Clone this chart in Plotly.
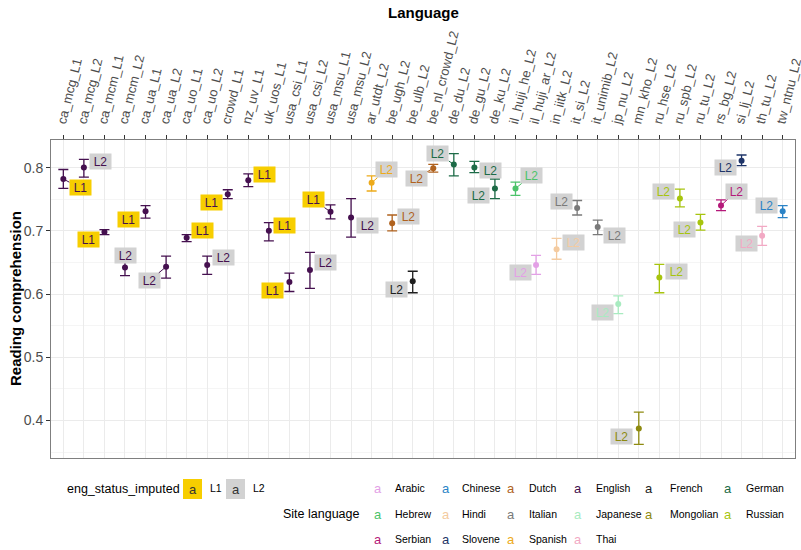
import plotly.graph_objects as go

# ---------------- data ----------------
sites = ["ca_mcg_L1", "ca_mcg_L2", "ca_mcm_L1", "ca_mcm_L2", "ca_ua_L1", "ca_ua_L2",
         "ca_uo_L1", "ca_uo_L2", "crowd_L1", "nz_uv_L1", "uk_uos_L1", "usa_csi_L1",
         "usa_csi_L2", "usa_msu_L1", "usa_msu_L2", "ar_utdt_L2", "be_ugh_L2", "be_ulb_L2",
         "be_nl_crowd_L2", "de_du_L2", "de_gu_L2", "de_ku_L2", "il_huji_he_L2",
         "il_huji_ar_L2", "in_iitk_L2", "it_si_L2", "it_unimib_L2", "jp_nu_L2",
         "mn_kho_L2", "ru_hse_L2", "ru_spb_L2", "ru_tu_L2", "rs_bg_L2", "si_lj_L2",
         "th_tu_L2", "tw_ntnu_L2"]

site_language = ["English"] * 15 + ["Spanish", "Dutch", "French", "Dutch",
                 "German", "German", "German", "Hebrew", "Arabic", "Hindi",
                 "Italian", "Italian", "Japanese", "Mongolian", "Russian", "Russian",
                 "Russian", "Serbian", "Slovene", "Thai", "Chinese"]

eng_status = ["L1", "L2", "L1", "L2", "L1", "L2", "L1", "L2", "L1", "L1", "L1", "L1",
              "L2", "L1", "L2"] + ["L2"] * 21

comprehension = [0.782, 0.800, 0.698, 0.642, 0.731, 0.643, 0.689, 0.646, 0.758, 0.780,
                 0.700, 0.619, 0.638, 0.730, 0.721, 0.776, 0.712, 0.620, 0.799, 0.805,
                 0.800, 0.767, 0.767, 0.646, 0.671, 0.736, 0.706, 0.584, 0.387, 0.626,
                 0.751, 0.713, 0.740, 0.811, 0.692, 0.731]

ci_low = [0.767, 0.785, 0.694, 0.629, 0.720, 0.625, 0.683, 0.631, 0.751, 0.770,
          0.684, 0.604, 0.609, 0.719, 0.690, 0.763, 0.700, 0.602, 0.793, 0.787,
          0.792, 0.751, 0.756, 0.631, 0.655, 0.725, 0.694, 0.569, 0.362, 0.602,
          0.738, 0.701, 0.732, 0.803, 0.677, 0.721]

ci_high = [0.797, 0.813, 0.702, 0.650, 0.740, 0.660, 0.694, 0.660, 0.765, 0.790,
           0.713, 0.633, 0.666, 0.741, 0.751, 0.787, 0.725, 0.636, 0.805, 0.822,
           0.810, 0.782, 0.777, 0.661, 0.688, 0.748, 0.717, 0.597, 0.413, 0.647,
           0.766, 0.726, 0.749, 0.820, 0.707, 0.740]

legend_languages = ["Arabic", "Chinese", "Dutch", "English", "French", "German",
                    "Hebrew", "Hindi", "Italian", "Japanese", "Mongolian", "Russian",
                    "Serbian", "Slovene", "Spanish", "Thai"]

# ---------------- styles ----------------
lang_colors = {
    "Arabic": "#E3A0E6", "Chinese": "#2B83C6", "Dutch": "#B0621E", "English": "#45104F",
    "French": "#1E1E1E", "German": "#1D6B47", "Hebrew": "#4CC36A", "Hindi": "#F4CBA0",
    "Italian": "#7A7A7A", "Japanese": "#A8EBC0", "Mongolian": "#8E8A10", "Russian": "#A7C40E",
    "Serbian": "#B5197A", "Slovene": "#1E3468", "Spanish": "#EDAA1A", "Thai": "#F2A9C4",
}
status_fill = {"L1": "#F7CE00", "L2": "#D2D2D2"}

# label offsets in screen pixels (repel-style placement)
label_offsets = [(17, 9), (17, -6), (-16, 7), (1, -12), (-17, 8), (-17, 14), (16, -7),
                 (16, -7), (-16, 8), (16, -6), (16, -5), (-17, 8), (16, -7), (-17, -12),
                 (16, 8), (15, -13), (16, -7), (-16, 8), (-17, 10), (-16, -11), (16, 3),
                 (-16, 7), (16, -13), (-16, 8), (17, -7), (-16, -7), (17, 8), (-16, 8),
                 (-17, 8), (17, -6), (-16, -7), (-16, 7), (15, -14), (-16, 7), (-16, 8),
                 (-16, -6)]

FONT = "Liberation Sans, Arial, sans-serif"
L, R, T, B = 51, 6, 140, 92
W, H = 801, 550
PW, PH = W - L - R, H - T - B


def px(xp):
    return (xp - L) / PW


def py(yp):
    return (H - B - yp) / PH


fig = go.Figure()

idx = list(range(len(sites)))
for lang in legend_languages:
    sel = [i for i in idx if site_language[i] == lang]
    if not sel:
        continue
    c = lang_colors[lang]
    fig.add_trace(go.Scatter(
        x=[sites[i] for i in sel],
        y=[comprehension[i] for i in sel],
        mode="markers",
        marker=dict(color=c, size=6),
        error_y=dict(type="data", symmetric=False,
                     array=[ci_high[i] - comprehension[i] for i in sel],
                     arrayminus=[comprehension[i] - ci_low[i] for i in sel],
                     color=c, thickness=1.3, width=5),
        showlegend=False, hoverinfo="skip",
    ))

annotations = []
for i in idx:
    dx, dy = label_offsets[i]
    c = lang_colors[site_language[i]]
    far = (dx * dx + dy * dy) ** 0.5 > 19
    annotations.append(dict(
        x=sites[i], y=comprehension[i], xref="x", yref="y",
        text=eng_status[i], showarrow=True, ax=dx, ay=dy,
        arrowhead=0, arrowwidth=1, standoff=2,
        arrowcolor=c if far else "rgba(0,0,0,0)",
        bgcolor=status_fill[eng_status[i]], borderpad=0, width=21, height=15,
        font=dict(family=FONT, size=12, color=c),
    ))

# axis titles
annotations.append(dict(x=0.5, y=py(12), xref="paper", yref="paper", text="<b>Language</b>",
                        showarrow=False, font=dict(family=FONT, size=15, color="black"),
                        xanchor="center", yanchor="middle"))
annotations.append(dict(x=px(15), y=0.5, xref="paper", yref="paper",
                        text="<b>Reading comprehension</b>", textangle=-90,
                        showarrow=False, font=dict(family=FONT, size=15, color="black"),
                        xanchor="center", yanchor="middle"))

shapes = []
# eng_status legend
annotations.append(dict(x=px(65), y=py(489), xref="paper", yref="paper",
                        text="eng_status_imputed", showarrow=False, xanchor="left",
                        yanchor="middle", font=dict(family=FONT, size=12.5, color="black")))
for k, (st, x0) in enumerate([("L1", 183), ("L2", 226)]):
    shapes.append(dict(type="rect", xref="paper", yref="paper",
                       x0=px(x0), x1=px(x0 + 19), y0=py(499), y1=py(479),
                       fillcolor=status_fill[st], line=dict(width=0)))
    annotations.append(dict(x=px(x0 + 9.5), y=py(489), xref="paper", yref="paper",
                            text="a", showarrow=False, xanchor="center", yanchor="middle",
                            font=dict(family=FONT, size=13, color="#333333")))
    annotations.append(dict(x=px(x0 + 25), y=py(488), xref="paper", yref="paper",
                            text=st, showarrow=False, xanchor="left", yanchor="middle",
                            font=dict(family=FONT, size=10.5, color="black")))

# site language legend
annotations.append(dict(x=px(362), y=py(514), xref="paper", yref="paper",
                        text="Site language", showarrow=False, xanchor="right",
                        yanchor="middle", font=dict(family=FONT, size=12.5, color="black")))
glyph_x = [378, 446, 511, 578, 649, 728]
text_x = [393, 460, 527, 594, 668, 744]
row_y = [488, 514, 539]
for k, lang in enumerate(legend_languages):
    r, col = divmod(k, 6)
    annotations.append(dict(x=px(glyph_x[col]), y=py(row_y[r]), xref="paper", yref="paper",
                            text="a", showarrow=False, xanchor="center", yanchor="middle",
                            font=dict(family=FONT, size=13, color=lang_colors[lang])))
    annotations.append(dict(x=px(text_x[col]), y=py(row_y[r]), xref="paper", yref="paper",
                            text=lang, showarrow=False, xanchor="left", yanchor="middle",
                            font=dict(family=FONT, size=10.5, color="black")))

fig.update_layout(
    width=W, height=H,
    margin=dict(l=L, r=R, t=T, b=B, autoexpand=False),
    paper_bgcolor="white", plot_bgcolor="white",
    font=dict(family=FONT),
    annotations=annotations, shapes=shapes,
    xaxis=dict(
        type="category", categoryorder="array", categoryarray=sites,
        side="top", range=[-0.6, len(sites) - 0.4], tickangle=-76, automargin=False,
        ticklabelshift=-4,
        tickfont=dict(family=FONT, size=13, color="#4D4D4D"),
        ticks="outside", ticklen=4, tickcolor="#333333",
        showgrid=True, gridcolor="#EBEBEB", gridwidth=1,
        showline=True, linecolor="#7F7F7F", mirror=True, zeroline=False,
    ),
    yaxis=dict(
        range=[0.3405, 0.8437], dtick=0.1, tick0=0.4, automargin=False,
        tickfont=dict(family=FONT, size=14, color="#4D4D4D"),
        ticks="outside", ticklen=4, tickcolor="#333333",
        showgrid=True, gridcolor="#EBEBEB", gridwidth=1,
        minor=dict(dtick=0.05, tick0=0.35, showgrid=True, gridcolor="#F5F5F5", gridwidth=0.8),
        showline=True, linecolor="#7F7F7F", mirror=True, zeroline=False,
    ),
)

fig.write_html(
    "out.html",
    config={"displayModeBar": False},
    post_script="document.body.style.margin='0';document.body.style.overflow='hidden';",
)
